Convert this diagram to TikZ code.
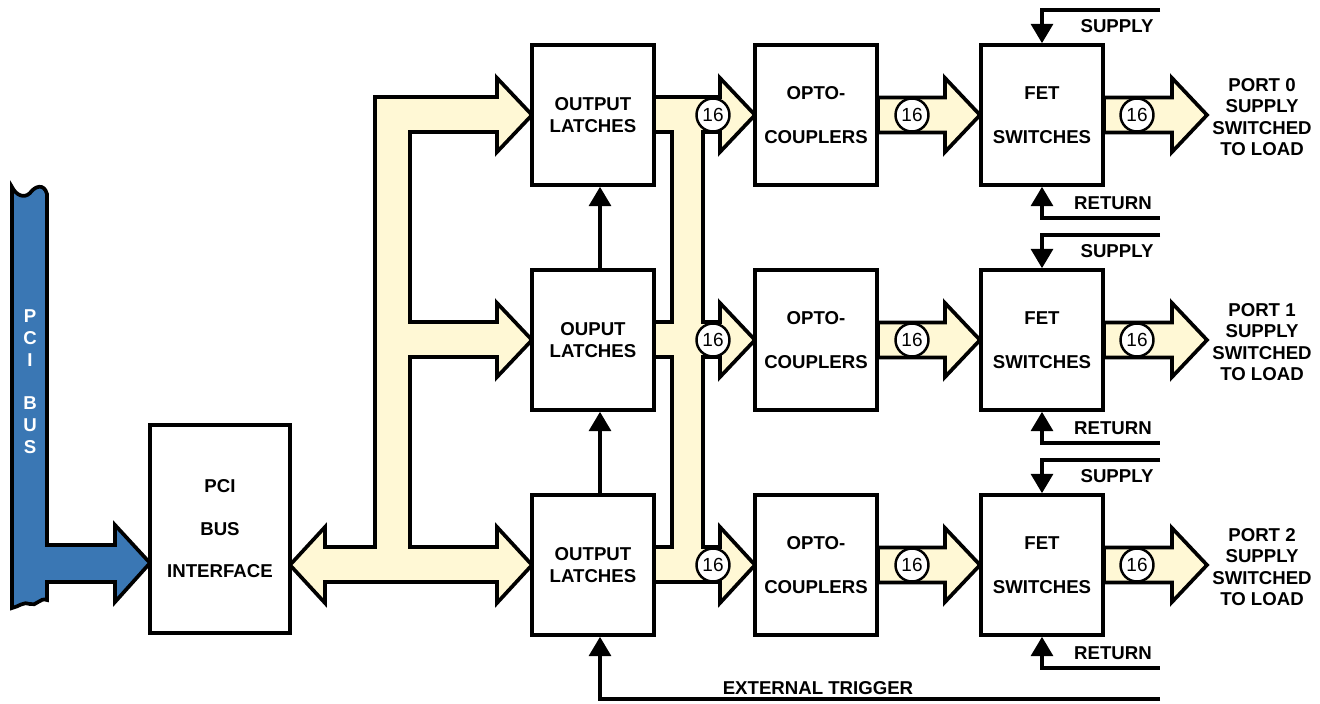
\documentclass[tikz,border=0pt]{standalone}
\usepackage{fontspec}
\setmainfont{Liberation Sans}
\usetikzlibrary{arrows.meta}
\definecolor{busblue}{HTML}{3A77B4}
\definecolor{busyellow}{HTML}{FFF8D5}
\tikzset{
  every picture/.style={line join=miter, >={Triangle[length=11pt,width=12.5pt]}},
  block/.style={draw, fill=white, line width=2.1pt, minimum width=2.44cm, minimum height=2.8cm, align=center, font=\bfseries\fontsize{10.6}{12.7}\selectfont},
  bus/.style={draw, fill=busyellow, line width=2.1pt},
  sig/.style={line width=2pt},
  lbl/.style={font=\bfseries\fontsize{10.6}{12.1}\selectfont, inner sep=0pt, align=center},
  numdot/.style={circle, draw, fill=white, line width=1.4pt, minimum size=0.66cm, inner sep=0pt, font=\fontsize{10.8}{12}\selectfont},
}
% tail x, tip x, centre y (picture units)
\newcommand{\fatarrow}[3]{%
  \filldraw[bus] ({#1},{#3-17.5}) -- ({#2-35},{#3-17.5}) -- ({#2-35},{#3-37}) -- ({#2},{#3})
    -- ({#2-35},{#3+37}) -- ({#2-35},{#3+17.5}) -- ({#1},{#3+17.5}) -- cycle;}

\begin{document}
\begin{tikzpicture}[x=0.02cm,y=-0.02cm]
\useasboundingbox (0,0) rectangle (1320,704);
% PCI bus
\filldraw[fill=busblue,line width=2.1pt] (12,187) .. controls (16,195) and (24,199) .. (30,193)
  .. controls (35,186) and (44,183) .. (47,194) -- (47,545) -- (115,545) -- (115,525) -- (150,563)
  -- (115,602) -- (115,582) -- (47,582) -- (47,600) .. controls (40,597) and (36,607) .. (30,604)
  .. controls (24,601) and (18,607) .. (12,608) -- cycle;
\node[lbl,text=white,font=\bfseries\fontsize{10.6}{12.5}\selectfont] (pcibus) at (30,382) {P\\C\\I\\[12pt]B\\U\\S};
% internal bus to the latches
\filldraw[bus] (290,565) -- (325,527) -- (325,547) -- (375,547) -- (375,97) -- (497,97) -- (497,78)
  -- (532,115) -- (497,152) -- (497,132) -- (410,132) -- (410,322) -- (497,322) -- (497,303)
  -- (532,340) -- (497,377) -- (497,357) -- (410,357) -- (410,547) -- (497,547) -- (497,527)
  -- (532,565) -- (497,603) -- (497,582) -- (325,582) -- (325,603) -- cycle;
% latch outputs to the opto-couplers
\filldraw[bus] (654,97) -- (720,97) -- (720,78) -- (755,115) -- (720,152) -- (720,132) -- (703,132)
  -- (703,322) -- (720,322) -- (720,303) -- (755,340) -- (720,377) -- (720,357) -- (703,357)
  -- (703,547) -- (720,547) -- (720,527) -- (755,565) -- (720,603) -- (720,582) -- (654,582)
  -- (654,547) -- (672,547) -- (672,357) -- (654,357) -- (654,322) -- (672,322) -- (672,132)
  -- (654,132) -- cycle;
\node[block,minimum width=2.8cm,minimum height=4.16cm] (pci) at (220,529) {PCI\\[11.5pt]BUS\\[11.5pt]INTERFACE};
\foreach \r/\yy/\word in {0/115/OUTPUT,1/340/OUPUT,2/565/OUTPUT}{
  \fatarrow{878}{980}{\yy}
  \fatarrow{1104}{1207}{\yy}
  \node[block] (lat\r) at (593,\yy) {\word\\LATCHES};
  \node[block] (opto\r) at (816,\yy) {OPTO-\\[12.5pt]COUPLERS};
  \node[block] (fet\r) at (1042,\yy) {FET\\[12.5pt]SWITCHES};
  \node[numdot] (na\r) at (713,\yy) {16};
  \node[numdot] (nb\r) at (912,\yy) {16};
  \node[numdot] (nc\r) at (1137,\yy) {16};
  \coordinate (sup\r) at (1160,\yy-105);
  \coordinate (ret\r) at (1160,\yy+103);
  \draw[sig,->] (sup\r) -| (fet\r.north);
  \draw[sig,<-] (fet\r.south) |- (ret\r);
  \node[lbl] (lsup\r) at (1117,\yy-89) {SUPPLY};
  \node[lbl] (lret\r) at (1113,\yy+88) {RETURN};
  \node[lbl] (port\r) at (1262,\yy+2) {PORT \r\\SUPPLY\\SWITCHED\\TO LOAD};
}
% latch chaining and trigger
\draw[sig,->] ([xshift=0.14cm]lat1.north) -- ([xshift=0.14cm]lat0.south);
\draw[sig,->] ([xshift=0.14cm]lat2.north) -- ([xshift=0.14cm]lat1.south);
\coordinate (trig) at (1160,699);
\draw[sig,->] (trig) -| ([xshift=0.14cm]lat2.south);
\node[lbl] (ltrig) at (818,688) {EXTERNAL TRIGGER};
\end{tikzpicture}
\end{document}
